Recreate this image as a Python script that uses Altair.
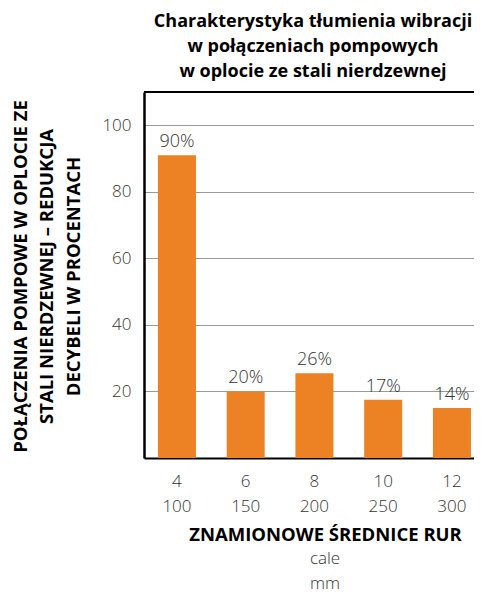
import altair as alt
import pandas as pd

inches = ["4", "6", "8", "10", "12"]
mm = ["100", "150", "200", "250", "300"]
reduction = [91, 20, 25.5, 17.5, 15]
pct_labels = ["90%", "20%", "26%", "17%", "14%"]

title_lines = ["Charakterystyka tłumienia wibracji",
               "w połączeniach pompowych",
               "w oplocie ze stali nierdzewnej"]
y_title = ["POŁĄCZENIA POMPOWE W OPLOCIE ZE",
           "STALI NIERDZEWNEJ – REDUKCJA",
           "DECYBELI W PROCENTACH"]
x_title = "ZNAMIONOWE ŚREDNICE RUR"
unit_lines = ["cale", "mm"]

FONT = "Open Sans"
TXT = "#333333"
ORANGE = "#EC8224"
W, H = 330, 366

df = pd.DataFrame({
    "size": [f"{a}|{b}" for a, b in zip(inches, mm)],
    "value": reduction,
    "label": pct_labels,
})
units_df = pd.DataFrame({"u": ["\n".join(unit_lines)]})

x_enc = alt.X("size:N", sort=None,
              scale=alt.Scale(paddingInner=0.447, paddingOuter=0.1236, align=0.82),
              axis=alt.Axis(labelExpr="split(datum.label, '|')", labelAngle=0,
                            labelFontSize=17, labelFontWeight=300, labelColor=TXT,
                            labelFont=FONT, labelLineHeight=25.7, labelBaseline="alphabetic",
                            labelPadding=28, ticks=False, tickSize=0,
                            domainColor="black", domainWidth=2,
                            title=x_title, titleFont=FONT, titleFontSize=18.5,
                            titleFontWeight="bold", titleColor="black",
                            titleX=181, titleY=82, titleAlign="center",
                            titleBaseline="alphabetic"))
y_enc = alt.Y("value:Q", scale=alt.Scale(domain=[0, 110], nice=False),
              axis=alt.Axis(values=[20, 40, 60, 80, 100], ticks=False, tickSize=0,
                            labelFontSize=17, labelFontWeight=300, labelColor=TXT,
                            labelFont=FONT, labelPadding=13,
                            grid=True, gridColor="#9a9a9a", gridWidth=1,
                            domainColor="black", domainWidth=2.5,
                            title=y_title, titleFont=FONT, titleFontSize=18.5,
                            titleFontWeight="bold", titleColor="black",
                            titleAngle=270, titleX=-118, titleY=184,
                            titleAlign="center", titleBaseline="alphabetic",
                            titleLineHeight=26.5))

base = alt.Chart(df)
bars = base.mark_bar(color=ORANGE).encode(x=x_enc, y=y_enc)
texts = base.mark_text(font=FONT, fontSize=18, fontWeight=300, color=TXT,
                       baseline="alphabetic", dy=-8).encode(
    x=alt.X("size:N", sort=None), y="value:Q", text="label:N")
top_rule = base.mark_rule(color="black", strokeWidth=2).encode(
    y=alt.value(0), x=alt.value(0), x2=alt.value(W + 10))
units = alt.Chart(units_df).mark_text(font=FONT, fontSize=17, fontWeight=300,
                                      color=TXT, baseline="alphabetic",
                                      lineBreak="\n", lineHeight=25).encode(
    x=alt.value(181), y=alt.value(472), text="u:N")

chart = alt.layer(bars, texts, top_rule, units).properties(
    width=W, height=H,
    title=alt.TitleParams(text=title_lines, font=FONT, fontSize=18,
                          fontWeight="bold", color="black", anchor="middle",
                          frame="group", lineHeight=25, offset=10, dx=4),
    autosize=alt.AutoSizeParams(type="none"),
    padding={"left": 136, "top": 84, "right": 0, "bottom": 136},
).configure_view(stroke=None)

chart.save("out.html", embed_options={"renderer": "svg", "actions": False})
